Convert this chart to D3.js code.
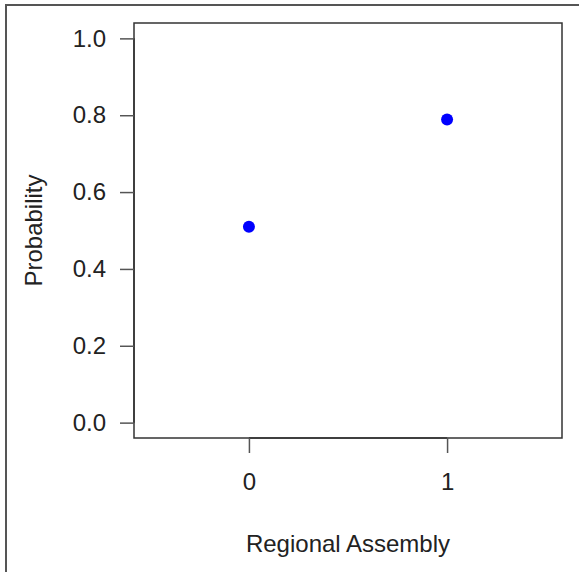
<!DOCTYPE html>
<html>
<head>
<meta charset="utf-8">
<script src="https://cdn.jsdelivr.net/npm/d3@7"></script>
<style>
  body { margin: 0; background: #fff; }
  svg text { font-family: "Liberation Sans", Arial, sans-serif; fill: #222; }
</style>
</head>
<body>
<div id="chart"></div>
<script>
// data
const groups = [0, 1];
const probability = [0.51, 0.789];
const yTicks = [0.0, 0.2, 0.4, 0.6, 0.8, 1.0];
const xTicks = [0, 1];

const W = 579, H = 572;
const fontSize = 24;
// plot box (R style, 4% padding around xlim/ylim)
const box = { left: 134, right: 562, top: 23, bottom: 438 };

const svg = d3.select('#chart').append('svg')
  .attr('width', W)
  .attr('height', H);

// outer frame: only top and left edges show
svg.append('line').attr('x1', 5).attr('x2', W).attr('y1', 5).attr('y2', 5)
  .attr('stroke', '#555').attr('stroke-width', 2);
svg.append('line').attr('x1', 6).attr('x2', 6).attr('y1', 5).attr('y2', H)
  .attr('stroke', '#555').attr('stroke-width', 2);

const pad = 0.04;
const xlim = [-0.5, 1.5], ylim = [0, 1];
const xr = xlim[1] - xlim[0], yr = ylim[1] - ylim[0];
const x = d3.scaleLinear()
  .domain([xlim[0] - pad * xr, xlim[1] + pad * xr])
  .range([box.left, box.right]);
const y = d3.scaleLinear()
  .domain([ylim[0] - pad * yr, ylim[1] + pad * yr])
  .range([box.bottom, box.top]);

// box
svg.append('rect')
  .attr('x', box.left).attr('y', box.top)
  .attr('width', box.right - box.left).attr('height', box.bottom - box.top)
  .attr('fill', 'none').attr('stroke', '#333').attr('stroke-width', 1.5);

// y axis (ticks only span the data range, like base R)
const yAxis = svg.append('g').attr('transform', 'translate(' + box.left + ',0)')
  .call(d3.axisLeft(y).tickValues(yTicks).tickFormat(d3.format('.1f'))
    .tickSize(14).tickPadding(14));
yAxis.select('.domain').attr('d', 'M0,' + y(0) + 'V' + y(1)).attr('stroke', '#333').attr('stroke-width', 1.5);
yAxis.selectAll('.tick line').attr('stroke', '#555').attr('stroke-width', 1.5);
yAxis.selectAll('.tick text').attr('font-size', fontSize).attr('fill', '#222');

const xAxis = svg.append('g').attr('transform', 'translate(0,' + box.bottom + ')')
  .call(d3.axisBottom(x).tickValues(xTicks).tickFormat(d3.format('d'))
    .tickSize(15).tickPadding(20));
xAxis.select('.domain').attr('d', 'M' + x(0) + ',0H' + x(1)).attr('stroke', '#333').attr('stroke-width', 1.5);
xAxis.selectAll('.tick line').attr('stroke', '#555').attr('stroke-width', 1.5);
xAxis.selectAll('.tick text').attr('font-size', fontSize).attr('fill', '#222');

// axis titles
svg.append('text')
  .attr('x', (box.left + box.right) / 2).attr('y', 552)
  .attr('text-anchor', 'middle').attr('font-size', fontSize)
  .text('Regional Assembly');
svg.append('text')
  .attr('transform', 'translate(42,' + (box.top + box.bottom) / 2 + ') rotate(-90)')
  .attr('text-anchor', 'middle').attr('font-size', fontSize)
  .text('Probability');

// points
svg.append('g').selectAll('circle')
  .data(groups)
  .enter()
  .append('circle')
  .attr('cx', function(d) { return x(d); })
  .attr('cy', function(d, i) { return y(probability[i]); })
  .attr('r', 6)
  .attr('fill', '#0000ff');
</script>
</body>
</html>
